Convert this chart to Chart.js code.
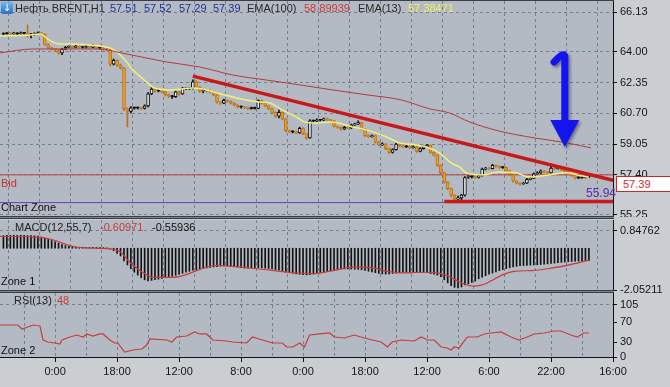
<!DOCTYPE html>
<html>
<head>
<meta charset="utf-8">
<script src="https://cdn.jsdelivr.net/npm/chart.js@4.4.1/dist/chart.umd.min.js"></script>
<style>
  html, body { margin: 0; padding: 0; }
  body {
    width: 670px; height: 387px; position: relative; overflow: hidden;
    background: #cacdd1; font-family: "Liberation Sans", Arial, sans-serif; font-size: 11px;
  }
  canvas { position: absolute; left: 0; }
  .t { position: absolute; white-space: nowrap; line-height: 12px; z-index: 5; }
  .sep { position: absolute; left: 0; width: 614px; height: 1px; background: #7d848d;
         border-top: 1px solid #3a3f46; border-bottom: 1px solid #3a3f46; z-index: 4; }
  .icon { position: absolute; left: 1px; top: 2px; width: 12px; height: 12px; border-radius: 2px;
          background: linear-gradient(#6fb4f2, #2d72c4); color: #fff; font-size: 10px;
          line-height: 12px; text-align: center; z-index: 5; font-family: "DejaVu Sans"; }
  .tag { position: absolute; left: 616px; top: 176px; width: 60px; height: 14px; background: #fff;
         border: 1px solid #d02828; color: #d02828; line-height: 14px; padding-left: 6px; z-index: 5; }
</style>
</head>
<body>
<canvas id="mainChart" width="670" height="217" style="top:0"></canvas>
<canvas id="macdChart" width="670" height="88" style="top:212px"></canvas>
<canvas id="rsiChart" width="670" height="102" style="top:285px"></canvas>

<div class="sep" style="top:-2px"></div>
<div class="sep" style="top:216px"></div>
<div class="sep" style="top:290px"></div>

<div class="icon">↓</div>
<div class="t" style="left:15px;top:2px;color:#2a2a2a">Нефть BRENT,H1</div>
<div class="t" style="left:110px;top:2px;color:#1e3296">57.51</div>
<div class="t" style="left:144px;top:2px;color:#1e3296">57.52</div>
<div class="t" style="left:179px;top:2px;color:#1e3296">57.29</div>
<div class="t" style="left:213px;top:2px;color:#1e3296">57.39</div>
<div class="t" style="left:247px;top:2px;color:#2a2a2a">EMA(100)</div>
<div class="t" style="left:304px;top:2px;color:#c83c3c">58.89939</div>
<div class="t" style="left:358px;top:2px;color:#2a2a2a">EMA(13)</div>
<div class="t" style="left:408px;top:2px;color:#f4f05a">57.38471</div>

<div class="t" style="left:1px;top:177px;color:#c83232">Bid</div>
<div class="t" style="left:1px;top:201px;color:#111">Chart Zone</div>
<div class="t" style="left:586px;top:187px;color:#5a2fa8;font-size:12px">55.94</div>
<div class="tag">57.39</div>

<div class="t" style="left:15px;top:221px;color:#222">MACD(12,55,7)</div>
<div class="t" style="left:100px;top:221px;color:#c83c3c">-0.60971</div>
<div class="t" style="left:152px;top:221px;color:#111">-0.55936</div>
<div class="t" style="left:1px;top:275px;color:#111">Zone 1</div>

<div class="t" style="left:14px;top:294px;color:#222">RSI(13)</div>
<div class="t" style="left:57px;top:294px;color:#c83c3c">48</div>
<div class="t" style="left:1px;top:344px;color:#111">Zone 2</div>

<script>
"use strict";

// H1 candles, bar index 0..170 (open = previous close)
const firstOpen = 64.96;
const closes = [
  64.98, 65.00, 64.97, 65.00, 64.98, 65.02, 65.00, 64.92, 64.93, 64.98,
  65.02, 64.96, 64.40, 64.22, 64.15, 64.12, 63.95, 64.15, 64.25, 64.28,
  64.25, 64.30, 64.26, 64.24, 64.28, 64.25, 64.32, 64.22, 64.20, 64.15,
  64.10, 63.35, 63.55, 63.30, 63.15, 60.95, 60.80, 61.00, 60.98, 61.00,
  60.97, 61.10, 61.75, 62.00, 61.90, 61.92, 61.85, 61.70, 61.62, 61.60,
  61.85, 61.75, 62.05, 62.02, 62.05, 62.40, 62.10, 61.90, 61.95, 61.90,
  61.85, 61.70, 61.30, 61.25, 61.40, 61.35, 61.25, 61.15, 61.05, 61.04,
  61.00, 60.95, 60.98, 60.97, 61.38, 61.25, 61.10, 60.95, 60.75, 60.55,
  60.75, 60.40, 59.75, 59.72, 59.70, 59.65, 59.90, 59.60, 59.38, 60.30,
  60.28, 60.35, 60.33, 60.40, 60.35, 60.30, 60.00, 59.95, 59.85, 59.95,
  59.92, 60.08, 60.12, 60.20, 59.85, 59.50, 59.45, 59.50, 59.15, 59.00,
  59.05, 58.80, 58.60, 58.75, 59.05, 58.95, 58.90, 58.92, 58.85, 58.90,
  58.65, 58.80, 58.90, 58.98, 58.60, 58.45, 57.90, 57.50, 57.00, 56.65,
  56.30, 56.10, 56.15, 56.30, 57.25, 57.30, 57.28, 57.25, 57.35, 57.70,
  57.75, 57.72, 57.90, 57.85, 57.78, 57.80, 57.60, 57.40, 57.05, 56.95,
  56.90, 56.95, 57.15, 57.20, 57.45, 57.50, 57.60, 57.55, 57.50, 57.75,
  57.72, 57.75, 57.65, 57.55, 57.45, 57.35, 57.22, 57.24, 57.25, 57.30,
  57.28,
];
const highs = [
  65.03, 65.05, 65.04, 65.06, 65.04, 65.08, 65.06, 65.45, 65.00, 65.03,
  65.08, 65.05, 64.98, 64.44, 64.25, 64.18, 64.15, 64.20, 64.30, 64.33,
  64.32, 64.36, 64.33, 64.30, 64.34, 64.32, 64.40, 64.35, 64.26, 64.23,
  64.20, 64.14, 63.62, 63.58, 63.35, 63.18, 61.00, 61.06, 61.05, 61.05,
  61.04, 61.16, 61.82, 62.08, 62.05, 61.98, 61.96, 61.88, 61.74, 61.66,
  61.90, 61.88, 62.10, 62.08, 62.10, 62.50, 62.45, 62.15, 62.02, 62.00,
  61.95, 61.88, 61.74, 61.33, 61.46, 61.44, 61.38, 61.28, 61.18, 61.10,
  61.08, 61.03, 61.04, 61.03, 61.42, 61.42, 61.28, 61.12, 60.98, 60.78,
  60.88, 60.78, 60.42, 59.80, 59.76, 59.74, 59.96, 59.93, 59.62, 60.36,
  60.35, 60.40, 60.38, 60.45, 60.44, 60.38, 60.33, 60.03, 59.98, 60.00,
  59.98, 60.12, 60.17, 60.30, 60.22, 59.88, 59.55, 59.55, 59.53, 59.18,
  59.12, 59.08, 58.83, 58.80, 59.10, 59.08, 58.98, 58.98, 58.95, 58.96,
  58.93, 58.85, 58.95, 59.03, 59.00, 58.63, 58.48, 57.93, 57.53, 57.03,
  56.68, 56.33, 56.25, 56.35, 57.30, 57.36, 57.34, 57.31, 57.40, 57.76,
  57.80, 57.78, 57.96, 57.93, 57.88, 57.85, 57.82, 57.63, 57.43, 57.08,
  56.98, 57.00, 57.20, 57.26, 57.50, 57.56, 57.66, 57.63, 57.58, 57.85,
  57.78, 57.80, 57.78, 57.68, 57.58, 57.48, 57.38, 57.30, 57.30, 57.35,
  57.35,
];
const lows = [
  64.93, 64.95, 64.94, 64.95, 64.94, 64.96, 64.96, 64.80, 64.75, 64.90,
  64.95, 64.92, 64.36, 64.18, 64.10, 64.06, 63.88, 63.85, 64.12, 64.22,
  64.20, 64.22, 64.22, 64.20, 64.21, 64.21, 64.22, 64.18, 64.15, 64.10,
  64.05, 63.25, 63.30, 63.22, 63.08, 60.85, 59.97, 60.72, 60.92, 60.93,
  60.91, 60.93, 61.05, 61.70, 61.84, 61.85, 61.80, 61.64, 61.56, 61.50,
  61.55, 61.68, 61.72, 61.97, 61.98, 62.00, 62.05, 61.82, 61.80, 61.85,
  61.80, 61.65, 61.25, 61.18, 61.22, 61.30, 61.20, 61.10, 61.00, 60.98,
  60.95, 60.90, 60.92, 60.92, 60.94, 61.20, 61.05, 60.90, 60.70, 60.48,
  60.45, 60.35, 59.70, 59.66, 59.64, 59.60, 59.62, 59.55, 59.30, 59.35,
  60.22, 60.25, 60.28, 60.30, 60.32, 60.25, 59.95, 59.90, 59.80, 59.82,
  59.87, 59.88, 60.04, 60.10, 59.80, 59.45, 59.40, 59.42, 59.10, 58.95,
  58.97, 58.75, 58.55, 58.56, 58.72, 58.90, 58.86, 58.86, 58.80, 58.82,
  58.60, 58.62, 58.77, 58.86, 58.55, 58.40, 57.85, 57.45, 56.95, 56.60,
  56.20, 55.94, 56.00, 56.05, 56.25, 57.20, 57.22, 57.20, 57.22, 57.32,
  57.66, 57.68, 57.70, 57.80, 57.74, 57.74, 57.56, 57.35, 57.00, 56.90,
  56.84, 56.88, 56.92, 57.12, 57.18, 57.42, 57.47, 57.50, 57.45, 57.48,
  57.68, 57.70, 57.62, 57.52, 57.42, 57.32, 57.18, 57.19, 57.20, 57.22,
  57.24,
];

// moving averages (bar index, price)
const ema13Idx = [-1, 7.7, 10.6, 13.5, 16.4, 19.3, 28, 30.9, 32.9, 35.3, 37.6, 40.2, 42.5, 43.9, 48.3, 55, 57.9, 61.9, 67.7, 74.4, 77.3, 81, 85.1, 87.4, 89.7, 95.5, 101.3, 105.4, 111.2, 115, 119.9, 122.8, 126.6, 130, 132.4, 134.4, 139, 143.9, 148.9, 152.6, 158.4, 163.4, 168, 170];
const ema13Val = [64.86, 64.91, 64.97, 64.61, 64.43, 64.43, 64.32, 64.22, 64.0, 63.57, 63.03, 62.6, 62.23, 62.06, 61.96, 62.06, 62.01, 61.8, 61.53, 61.31, 61.26, 60.88, 60.5, 60.24, 60.18, 60.24, 59.97, 59.81, 59.43, 59.11, 59.0, 58.89, 58.57, 58.03, 57.82, 57.5, 57.39, 57.55, 57.5, 57.28, 57.39, 57.5, 57.33, 57.28];
const ema100Idx = [-1, 8.6, 28, 32.9, 47.4, 57, 66.6, 76.4, 86, 95.5, 105.7, 115.5, 123.6, 129.5, 135.3, 143.9, 154.1, 163.7, 170.6];
const ema100Val = [63.95, 64.16, 64.16, 64.0, 63.46, 63.19, 62.76, 62.49, 62.23, 61.96, 61.69, 61.42, 60.95, 60.72, 60.24, 59.75, 59.38, 59.11, 58.84];

// hand-drawn lines
const trendIdx = [55, 177];
const trendVal = [62.70, 57.10];
const supportIdx = [128, 177];
const supportVal = [55.96, 55.96];
const bidPrice = 57.39;
const zonePrice = 55.90;

// MACD(12,55,7)
const macdHist = [
  0.62, 0.63, 0.63, 0.64, 0.63, 0.64, 0.63, 0.62, 0.62, 0.61,
  0.60, 0.55, 0.50, 0.44, 0.38, 0.31, 0.25, 0.18, 0.13, 0.09,
  0.07, 0.06, 0.05, 0.05, 0.05, 0.04, 0.04, 0.04, 0.03, 0.03,
  0.02, 0.00, -0.12, -0.25, -0.38, -0.62, -0.82, -1.00, -1.18, -1.32,
  -1.45, -1.55, -1.60, -1.58, -1.55, -1.52, -1.48, -1.45, -1.42, -1.38,
  -1.33, -1.28, -1.23, -1.18, -1.13, -1.08, -1.05, -1.02, -1.00, -0.97,
  -0.94, -0.92, -0.90, -0.88, -0.87, -0.87, -0.88, -0.90, -0.93, -0.96,
  -0.98, -0.98, -0.97, -0.96, -0.96, -0.97, -0.98, -1.00, -1.02, -1.05,
  -1.08, -1.12, -1.16, -1.20, -1.23, -1.26, -1.28, -1.30, -1.31, -1.30,
  -1.27, -1.24, -1.20, -1.17, -1.14, -1.10, -1.07, -1.04, -1.02, -1.02,
  -1.02, -1.02, -1.03, -1.04, -1.06, -1.09, -1.13, -1.16, -1.20, -1.24,
  -1.26, -1.27, -1.26, -1.24, -1.22, -1.20, -1.19, -1.18, -1.18, -1.19,
  -1.20, -1.19, -1.18, -1.20, -1.25, -1.28, -1.32, -1.40, -1.55, -1.70,
  -1.84, -1.92, -1.95, -1.90, -1.80, -1.74, -1.68, -1.62, -1.50, -1.42,
  -1.35, -1.28, -1.22, -1.16, -1.10, -1.05, -1.00, -0.96, -0.92, -0.89,
  -0.86, -0.85, -0.84, -0.83, -0.82, -0.81, -0.80, -0.78, -0.77, -0.75,
  -0.73, -0.71, -0.69, -0.68, -0.66, -0.65, -0.64, -0.63, -0.62, -0.61,
  -0.61,
];
const sigIdx = [-1, 10, 14, 17.3, 21.3, 30.9, 33.8, 36.7, 39.6, 43.4, 49.2, 61.9, 71.5, 89.7, 96.1, 101.9, 107.7, 111.5, 115.5, 122.2, 126, 128.9, 132.9, 136.7, 139.6, 142.5, 145.4, 148.3, 154.1, 159, 163.7, 170];
const sigVal = [0.58, 0.55, 0.43, 0.24, 0.05, -0.04, -0.16, -0.69, -1.09, -1.43, -1.43, -0.84, -0.97, -1.25, -1.09, -0.92, -0.98, -1.14, -1.21, -1.18, -1.21, -1.35, -1.69, -1.86, -1.77, -1.52, -1.27, -1.14, -1.09, -0.98, -0.84, -0.58];

// RSI(13)
const rsiIdx = [-1, 4.2, 5.4, 7.1, 8.6, 10.6, 11.5, 12.9, 15, 16.4, 17, 19.3, 21.3, 23.1, 24.2, 26, 28, 28.9, 30.9, 32.3, 33.2, 35.2, 37.6, 40.2, 41.6, 42.5, 47.4, 48.9, 50.3, 53.2, 55.5, 57, 59, 60.8, 64.8, 66.6, 70.6, 72.3, 75.2, 78.1, 81, 82.2, 84, 86, 87.4, 88.9, 91.8, 94.7, 96.1, 99, 101.9, 104.8, 107.1, 109.7, 111.5, 112.9, 115.5, 119.3, 121.3, 123.1, 125.1, 127.1, 128.9, 130, 130.9, 132.3, 134.7, 137.6, 139.6, 141.6, 144.5, 147.4, 149.7, 152.1, 154.1, 157, 159.9, 161.9, 164.8, 166.6, 168.6, 170];
const rsiVal = [64.6, 64.6, 56.6, 60.6, 64.6, 62.6, 34.3, 30.3, 28.3, 26.3, 34.3, 40.4, 44.4, 40.4, 46.5, 42.4, 46.5, 46.5, 34.3, 28.3, 28.3, 10.1, 14.1, 16.2, 24.2, 36.4, 34.3, 30.3, 40.4, 42.4, 50.5, 46.5, 46.5, 34.3, 32.3, 30.3, 28.3, 40.4, 34.3, 28.3, 28.3, 20.2, 20.2, 28.3, 20.2, 44.4, 46.5, 48.5, 40.4, 38.4, 44.4, 38.4, 34.3, 30.3, 20.2, 30.3, 34.3, 32.3, 40.4, 34.3, 34.3, 20.2, 18.2, 14.1, 20.2, 18.2, 40.4, 40.4, 46.5, 48.5, 50.5, 40.4, 34.3, 40.4, 46.5, 48.5, 52.5, 52.5, 44.4, 40.4, 48.5, 48.5];

// axes
const priceTicks = [66.13, 64.00, 62.35, 60.70, 59.05, 57.40, 55.25];
const macdTicks = [0.84762, -2.05211];
const rsiTicks = [105, 70, 30, 0];
const gridIdx = [6, 15, 24, 33, 42, 51, 60, 69, 78, 87, 96, 105, 114, 123, 132, 141, 150, 159, 168, 177];
const timeIdx = [15, 33, 51, 69, 87, 105, 123, 141, 159, 177];
const timeLabels = ["0:00", "18:00", "12:00", "8:00", "0:00", "18:00", "12:00", "6:00", "22:00", "16:00"];

// blue arrow annotation (bar index / price)
const arrowIdx = 163;
const arrowTop = 63.95;
const arrowBase = 60.34;
const arrowTip = 58.89;
const arrowHalf = 4.2;
const hookIdx = 159.9;
const hookVal = 63.46;

Chart.defaults.font.family = '"Liberation Sans", Arial, sans-serif';
Chart.defaults.font.size = 11;
Chart.defaults.color = "#151515";

const GRID = "rgba(104,116,134,0.85)";
const PANEL_BG = "#b3bac3";

const opens = closes.map((c, i) => (i ? closes[i - 1] : firstOpen));
const pts = (xs, ys) => xs.map((x, i) => ({ x, y: ys[i] }));

function candleKind(i) {
  const d = closes[i] - opens[i];
  if (Math.abs(d) <= 0.03) return "doji";
  return d > 0 ? "up" : "down";
}
const bodyFill = { up: "#e3e6ea", down: "#e99d2e", doji: "#111111" };
const bodyLine = { up: "#111111", down: "#c27516", doji: "#111111" };
const wickCol = { up: "#111111", down: "#b8721c", doji: "#111111" };

const panelBg = {
  id: "panelBg",
  beforeDraw(chart) {
    const { ctx, chartArea: a } = chart;
    ctx.save();
    ctx.fillStyle = PANEL_BG;
    ctx.fillRect(a.left, a.top, a.width, a.height);
    ctx.restore();
  },
};

const blueArrow = {
  id: "blueArrow",
  afterDatasetsDraw(chart) {
    const { ctx, scales: { x, y } } = chart;
    const cx = x.getPixelForValue(arrowIdx);
    const top = y.getPixelForValue(arrowTop);
    const base = y.getPixelForValue(arrowBase);
    const tip = y.getPixelForValue(arrowTip);
    const half = x.getPixelForValue(arrowIdx + arrowHalf) - cx;
    const hx = x.getPixelForValue(hookIdx);
    const hy = y.getPixelForValue(hookVal);
    ctx.save();
    ctx.shadowColor = "rgba(20,20,60,0.45)";
    ctx.shadowBlur = 3;
    ctx.shadowOffsetX = 2;
    ctx.shadowOffsetY = 2;
    ctx.strokeStyle = "#1414ee";
    ctx.fillStyle = "#1414ee";
    ctx.lineWidth = 7;
    ctx.lineCap = "round";
    ctx.lineJoin = "round";
    ctx.beginPath();
    ctx.moveTo(hx, hy);
    ctx.quadraticCurveTo(cx - 2, top - 1, cx, top + 3);
    ctx.lineTo(cx, base + 2);
    ctx.stroke();
    ctx.beginPath();
    ctx.moveTo(cx - half, base);
    ctx.lineTo(cx + half, base);
    ctx.lineTo(cx, tip);
    ctx.closePath();
    ctx.fill();
    ctx.restore();
  },
};

function xScale(showLabels) {
  return {
    type: "linear",
    min: -1,
    max: 177,
    offset: false,
    afterBuildTicks: (s) => { s.ticks = gridIdx.map((v) => ({ value: v })); },
    afterFit: (s) => {
      s.height = showLabels ? 30 : 0;
      s.paddingLeft = 0;
      s.paddingRight = 0;
    },
    ticks: {
      display: showLabels,
      autoSkip: false,
      maxRotation: 0,
      padding: 3,
      color: "#151515",
      callback: (v) => {
        const k = timeIdx.indexOf(v);
        return k < 0 ? "" : timeLabels[k];
      },
    },
    grid: {
      color: GRID,
      drawTicks: showLabels,
      tickLength: 5,
      tickColor: (c) => (c.tick && timeIdx.includes(c.tick.value) ? "#111" : "rgba(0,0,0,0)"),
    },
    border: { display: showLabels, color: "#111", dash: [3, 3] },
  };
}

function yScale(min, max, ticks, fmt, gridColor) {
  return {
    position: "right",
    min,
    max,
    afterBuildTicks: (s) => { s.ticks = ticks.map((v) => ({ value: v })); },
    afterFit: (s) => {
      s.width = 57;
      s.paddingTop = 0;
      s.paddingBottom = 0;
    },
    ticks: { autoSkip: false, padding: 3, color: "#151515", callback: fmt },
    grid: { color: gridColor, tickColor: "#111", tickLength: 4 },
    border: { display: true, color: "#111", width: 1, dash: [3, 3] },
  };
}

const common = {
  responsive: false,
  animation: false,
  events: [],
  plugins: { legend: { display: false }, tooltip: { enabled: false } },
};

const lineDs = (data, color, width, extra) => ({
  type: "line",
  data,
  borderColor: color,
  borderWidth: width,
  pointRadius: 0,
  fill: false,
  order: 1,
  ...extra,
});

new Chart(document.getElementById("mainChart"), {
  type: "bar",
  plugins: [panelBg, blueArrow],
  data: {
    datasets: [
      {
        label: "wicks",
        data: closes.map((c, i) => ({ x: i, y: [lows[i], highs[i]] })),
        backgroundColor: closes.map((c, i) => wickCol[candleKind(i)]),
        barThickness: 1,
        grouped: false,
        order: 4,
      },
      {
        label: "bodies",
        data: closes.map((c, i) => ({ x: i, y: [opens[i], c] })),
        backgroundColor: closes.map((c, i) => bodyFill[candleKind(i)]),
        borderColor: closes.map((c, i) => bodyLine[candleKind(i)]),
        borderWidth: 1,
        borderSkipped: false,
        minBarLength: 1,
        barThickness: 3,
        grouped: false,
        order: 3,
      },
      lineDs([{ x: -1, y: zonePrice }, { x: 177, y: zonePrice }], "#6a3fb4", 1, { order: 5 }),
      lineDs([{ x: -1, y: bidPrice }, { x: 177, y: bidPrice }], "#c64040", 1, { order: 5 }),
      lineDs(pts(ema100Idx, ema100Val), "#b23c3c", 1, { cubicInterpolationMode: "monotone" }),
      lineDs(pts(ema13Idx, ema13Val), "#f2f07a", 1.5, { cubicInterpolationMode: "monotone" }),
      lineDs(pts(trendIdx, trendVal), "#c81818", 3.5, { order: 0 }),
      lineDs(pts(supportIdx, supportVal), "#cc1a1a", 3.5, { order: 0 }),
    ],
  },
  options: {
    ...common,
    layout: { padding: { top: 1, bottom: 1, left: 0, right: 0 } },
    scales: {
      x: xScale(false),
      y: yScale(55.18, 66.74, priceTicks, (v) => v.toFixed(2), GRID),
    },
  },
});

new Chart(document.getElementById("macdChart"), {
  type: "bar",
  plugins: [panelBg],
  data: {
    datasets: [
      {
        label: "MACD",
        data: macdHist.map((v, i) => ({ x: i, y: v })),
        backgroundColor: "#121212",
        barThickness: 1,
        grouped: false,
        order: 2,
      },
      lineDs(pts(sigIdx, sigVal), "#c83c3c", 1.2, { cubicInterpolationMode: "monotone" }),
    ],
  },
  options: {
    ...common,
    layout: { padding: { top: 8, bottom: 10, left: 0, right: 0 } },
    scales: {
      x: xScale(false),
      y: yScale(-2.05211, 1.388, macdTicks, (v) => v.toFixed(5), GRID),
    },
  },
});

new Chart(document.getElementById("rsiChart"), {
  type: "line",
  plugins: [panelBg],
  data: {
    datasets: [lineDs(pts(rsiIdx, rsiVal), "#c83c3c", 1.2)],
  },
  options: {
    ...common,
    layout: { padding: { top: 8, bottom: 0, left: 0, right: 0 } },
    scales: {
      x: xScale(true),
      y: yScale(0, 129.2, rsiTicks, (v) => String(v),
        (c) => (c.tick && c.tick.value === 105 ? GRID : "rgba(0,0,0,0)")),
    },
  },
});
</script>
</body>
</html>
